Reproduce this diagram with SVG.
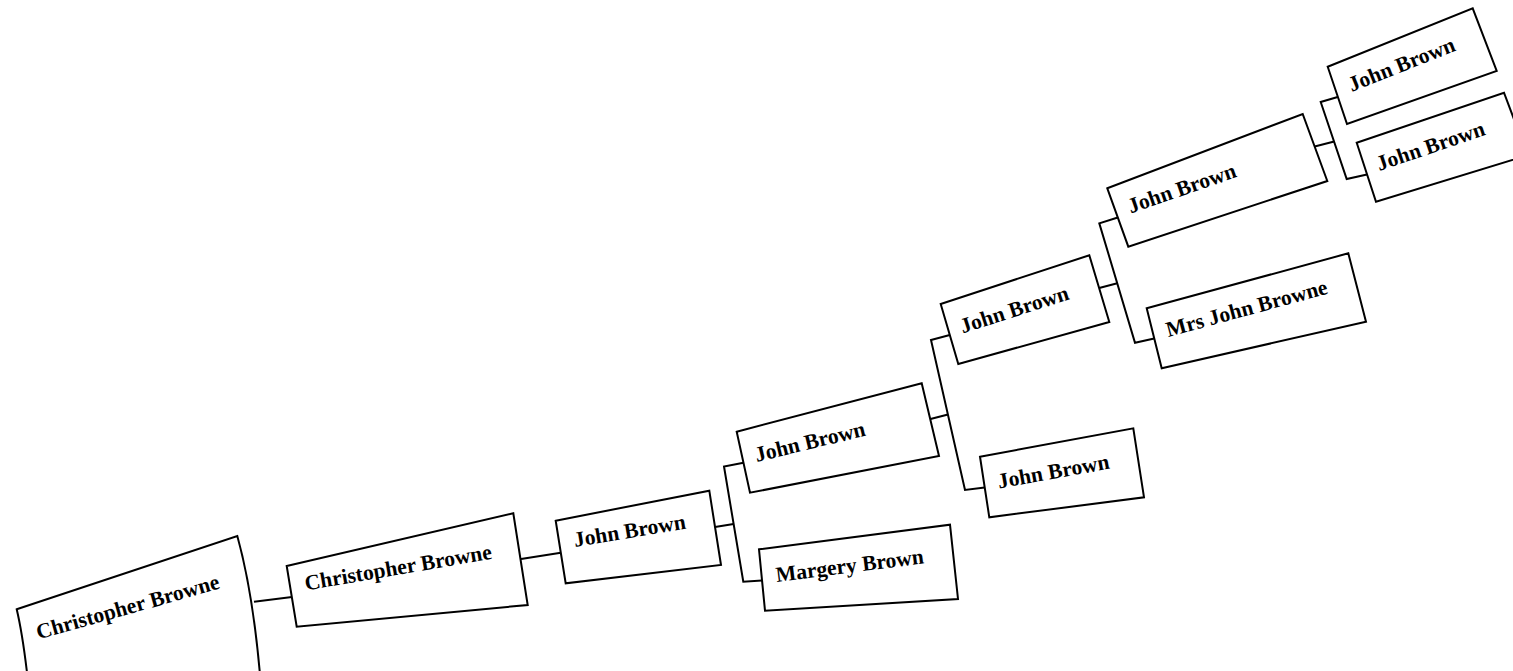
<svg xmlns="http://www.w3.org/2000/svg" width="1513" height="671" viewBox="0 0 1513 671">
<style>
.box{fill:#fff;stroke:#000;stroke-width:2;stroke-linejoin:miter}
.lbl{font-family:"Liberation Serif","Times New Roman",serif;font-weight:bold;font-size:21.6px;fill:#000}
.con{fill:none;stroke:#000;stroke-width:2}
</style>
<rect width="1513" height="671" fill="#fff"/>
<g id="connectors">
<path class="con" d="M254,601.7 L292,597"/>
<path class="con" d="M521,559 L560.8,552.7"/>
<path class="con" d="M715,527 L733.6,524"/>
<path class="con" d="M743.5,462.7 L724,466.5 L743.3,581.7 L762,580.5"/>
<path class="con" d="M930.5,419 L948,414.5"/>
<path class="con" d="M949.8,335 L931,340 L965,490 L984.7,487.5"/>
<path class="con" d="M1099.2,288 L1117.3,283.3"/>
<path class="con" d="M1117.8,217.5 L1099.3,223.3 L1135,342.7 L1154.2,338.5"/>
<path class="con" d="M1314.7,146.5 L1334.2,141.5"/>
<path class="con" d="M1337.7,97 L1320.7,102 L1346.7,179 L1367,174.5"/>
</g>
<g id="n1">
<path class="box" d="M16.7,609.3 L237.3,536 Q255,600 262,700 L30,700 Q24,640 16.7,609.3 Z"/>
<text class="lbl" transform="translate(38.5,639.5) rotate(-15.7)">Christopher Browne</text>
</g>
<g id="n2">
<path class="box" d="M286.7,566 L513.3,513.3 L527.7,605 L296.7,626.7 Z"/>
<text class="lbl" transform="translate(306,590.5) rotate(-9.7)">Christopher Browne</text>
</g>
<g id="n3">
<path class="box" d="M555.7,520.7 L709.3,490.7 L721,565 L565.7,583.3 Z"/>
<text class="lbl" transform="translate(575,547) rotate(-9.4)">John Brown</text>
</g>
<g id="n4">
<path class="box" d="M736.7,431.7 L921.7,383.3 L939,456 L750,492.7 Z"/>
<text class="lbl" transform="translate(756.7,462) rotate(-13.6)">John Brown</text>
</g>
<g id="n5">
<path class="box" d="M759,549.3 L950,524.7 L958,599 L765,610.7 Z"/>
<text class="lbl" transform="translate(776.7,582) rotate(-7.2)">Margery Brown</text>
</g>
<g id="n6">
<path class="box" d="M940.7,304 L1089.3,255.3 L1109.3,322 L958.3,364 Z"/>
<text class="lbl" transform="translate(962.7,333.5) rotate(-17.8)">John Brown</text>
</g>
<g id="n7">
<path class="box" d="M980,456.7 L1133.3,428.3 L1144,497.3 L989.3,517.3 Z"/>
<text class="lbl" transform="translate(999,488.5) rotate(-10.2)">John Brown</text>
</g>
<g id="n8">
<path class="box" d="M1107.3,188.3 L1302.7,114 L1327.3,181 L1128.3,246.7 Z"/>
<text class="lbl" transform="translate(1130.7,213.5) rotate(-19)">John Brown</text>
</g>
<g id="n9">
<path class="box" d="M1146.7,308.3 L1348.3,253.3 L1366,321.7 L1161.7,368.3 Z"/>
<text class="lbl" transform="translate(1168.3,337) rotate(-15.2)">Mrs John Browne</text>
</g>
<g id="n10">
<path class="box" d="M1327.7,66.7 L1472.7,8.3 L1496.7,71 L1347,124 Z"/>
<text class="lbl" transform="translate(1351.7,92) rotate(-21.7)">John Brown</text>
</g>
<g id="n11">
<path class="box" d="M1356.7,142.7 L1504,92.7 L1527.5,155.3 L1376,201.7 Z"/>
<text class="lbl" transform="translate(1379.3,171) rotate(-18.7)">John Brown</text>
</g>
</svg>
